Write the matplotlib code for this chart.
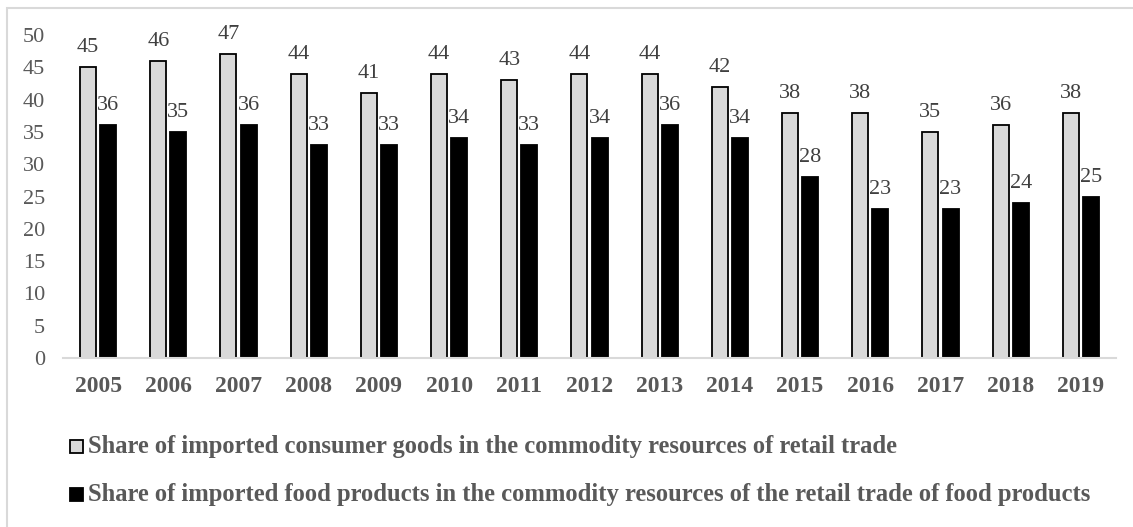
import matplotlib
matplotlib.use('Agg')
import matplotlib.pyplot as plt
from matplotlib.patches import Rectangle
import numpy as np

plt.rcParams['font.family'] = ['Liberation Serif', 'DejaVu Serif']

# Shares of imports in retail trade resources, %
years = ['2005', '2006', '2007', '2008', '2009', '2010', '2011', '2012',
         '2013', '2014', '2015', '2016', '2017', '2018', '2019']
consumer_goods = [45, 46, 47, 44, 41, 44, 43, 44, 44, 42, 38, 38, 35, 36, 38]
food_products = [36, 35, 36, 33, 33, 34, 33, 34, 36, 34, 28, 23, 23, 24, 25]
legend_labels = [
    'Share of imported consumer goods in the commodity resources of retail trade',
    'Share of imported food products in the commodity resources of the retail trade of food products',
]

W, H = 1133, 527
fig = plt.figure(figsize=(W / 100, H / 100), dpi=100)

# light outer frame
fig.patches.append(Rectangle((7 / W, -0.1), 1.2, (H - 8) / H + 0.1,
                             transform=fig.transFigure, fill=False,
                             edgecolor='#d9d9d9', linewidth=1.5))

# plot area in pixels: x 63..1116, y 0 at 358, 50 at 35
ax = fig.add_axes([63 / W, (H - 358) / H, (1116 - 63) / W, (358 - 35) / H])
x = np.arange(len(years))
w = 0.228
off = 0.143
ax.bar(x - off, consumer_goods, w, color='#d9d9d9', edgecolor='black', linewidth=1.3)
ax.bar(x + off, food_products, w, color='black', edgecolor='black', linewidth=1.3)

for xi, v in zip(x, consumer_goods):
    ax.annotate(str(v), (xi - off, v), xytext=(0, 10.8), textcoords='offset points',
                ha='center', va='baseline', fontsize=16, color='#404040',
                annotation_clip=False)
for xi, v in zip(x, food_products):
    ax.annotate(str(v), (xi + off, v), xytext=(0, 10.8), textcoords='offset points',
                ha='center', va='baseline', fontsize=16, color='#404040',
                annotation_clip=False)

ax.set_xlim(-0.5, len(years) - 0.5)
ax.set_ylim(0, 50)
ax.set_yticks(range(0, 51, 5))
ax.set_xticks(x)
ax.set_xticklabels(years, fontweight='bold', fontsize=17, color='#595959')
ax.tick_params(axis='y', length=0, pad=13, labelsize=16, labelcolor='#595959')
ax.tick_params(axis='x', length=0, pad=13)
for side in ['top', 'right', 'left']:
    ax.spines[side].set_visible(False)
ax.spines['bottom'].set_color('#d9d9d9')
ax.spines['bottom'].set_linewidth(1.5)

# legend rows drawn below the axis
rows = [(440, '#d9d9d9'), (488, 'black')]
for (top, fc), label in zip(rows, legend_labels):
    fig.patches.append(Rectangle((70 / W, (H - top - 13) / H), 13 / W, 13 / H,
                                 transform=fig.transFigure, facecolor=fc,
                                 edgecolor='black', linewidth=1.3))
    fig.text(88 / W, (H - top - 6.5) / H, label, fontsize=17.7, fontweight='bold',
             color='#595959', ha='left', va='center')

fig.savefig('out.png', dpi=100)
